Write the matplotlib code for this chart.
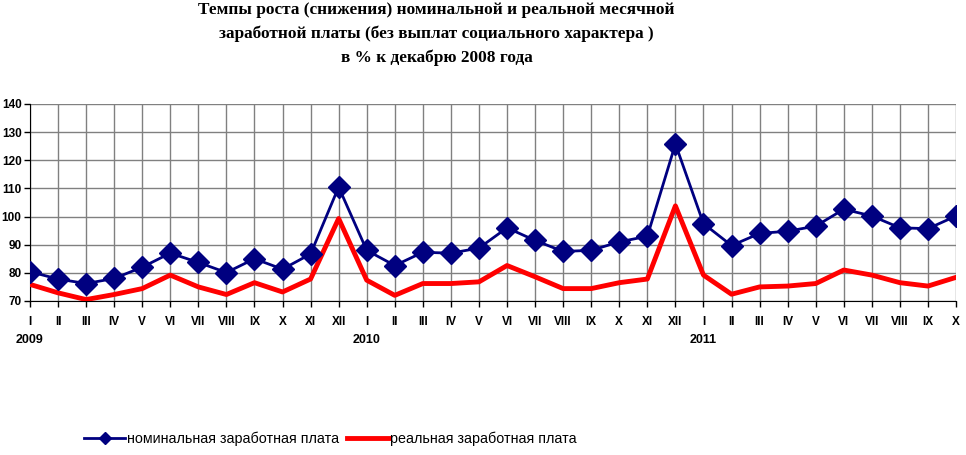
import matplotlib
matplotlib.use("Agg")
import matplotlib.pyplot as plt
from matplotlib.lines import Line2D

months_12 = ["I", "II", "III", "IV", "V", "VI", "VII", "VIII", "IX", "X", "XI", "XII"]
month_labels = months_12 + months_12 + months_12[:10]
years = ["2009", "2010", "2011"]
year_start = [0, 12, 24]

nominal = [80.4, 77.8, 76.2, 78.0, 82.0, 87.0, 83.7, 80.1, 85.0, 81.3, 86.7, 110.5,
           88.0, 82.6, 87.3, 87.0, 88.8, 96.0, 91.5, 87.6, 88.0, 91.0, 93.0, 125.8,
           97.5, 89.7, 94.0, 94.8, 96.6, 102.6, 100.2, 96.0, 95.7, 100.2]
real = [75.9, 72.9, 70.5, 72.3, 74.4, 79.2, 75.0, 72.3, 76.5, 73.2, 77.8, 99.3,
        77.4, 72.0, 76.2, 76.2, 76.8, 82.6, 78.6, 74.4, 74.4, 76.5, 77.8, 103.8,
        79.2, 72.4, 75.0, 75.3, 76.2, 81.0, 79.2, 76.5, 75.3, 78.4]

title = ("Темпы роста (снижения) номинальной и реальной месячной\n"
         "заработной платы (без выплат социального характера )\n"
         "в % к декабрю 2008 года")
labels = ["номинальная заработная плата", "реальная заработная плата"]

navy = "#000080"
red = "#FF0000"

fig = plt.figure(figsize=(9.66, 4.55), dpi=100)
ax = fig.add_axes([0.031, 0.3385, 0.9587, 0.433])

x = list(range(len(nominal)))
ax.plot(x, real, color=red, lw=3.5, zorder=3)
ax.plot(x, nominal, color=navy, lw=2, marker="D", markersize=11, zorder=4)

ax.set_xlim(0, len(nominal) - 1)
ax.set_ylim(70, 140)
ax.set_yticks(range(70, 141, 10))
ax.set_xticks(x)
ax.set_xticklabels(month_labels)
ax.grid(True, color="#808080", lw=1)
ax.set_axisbelow(True)
for s in ["top", "right"]:
    ax.spines[s].set_visible(False)
ax.tick_params(axis="both", labelsize=8.5, length=4, width=1, direction="out")
ax.tick_params(axis="x", pad=7)
ax.tick_params(axis="y", pad=2)
for lab in ax.get_xticklabels() + ax.get_yticklabels():
    lab.set_fontweight("bold")
    lab.set_family("Liberation Sans")

for yr, pos in zip(years, year_start):
    ax.text(pos, -0.17, yr, transform=ax.get_xaxis_transform(), ha="center", va="top",
            fontsize=9, fontweight="bold", family="Liberation Sans")

fig.text(0.452, 0.995, title, ha="center", va="top", fontsize=12.4, fontweight="bold",
         family="Liberation Serif", linespacing=1.6)

handles = [Line2D([0], [0], color=navy, lw=2, marker="D", markersize=6),
           Line2D([0], [0], color=red, lw=3.5)]
fig.legend(handles, labels, loc="center", bbox_to_anchor=(0.342, 0.035), ncol=2, frameon=False,
           prop={"family": "Liberation Sans", "size": 10.3}, handlelength=2.9, handletextpad=0.1,
           columnspacing=0.6)

fig.savefig("out.png", dpi=100)
